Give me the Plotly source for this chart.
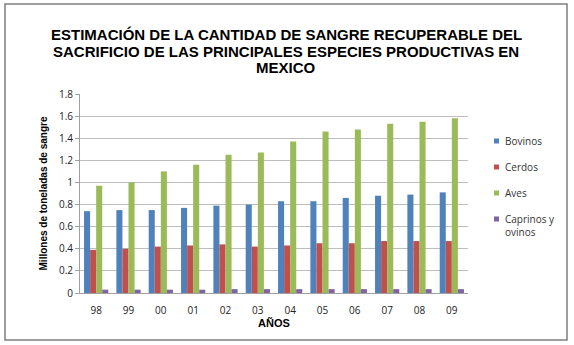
import plotly.graph_objects as go

years = ["98", "99", "00", "01", "02", "03", "04", "05", "06", "07", "08", "09"]
bovinos = [0.74, 0.75, 0.75, 0.77, 0.79, 0.80, 0.83, 0.83, 0.86, 0.88, 0.89, 0.91]
cerdos = [0.39, 0.40, 0.42, 0.43, 0.44, 0.42, 0.43, 0.45, 0.45, 0.47, 0.47, 0.47]
aves = [0.97, 1.00, 1.10, 1.16, 1.25, 1.27, 1.37, 1.46, 1.48, 1.53, 1.55, 1.58]
caprinos = [0.03, 0.03, 0.03, 0.03, 0.035, 0.035, 0.035, 0.035, 0.035, 0.035, 0.035, 0.035]

names = ["Bovinos", "Cerdos", "Aves", "Caprinos y<br>ovinos"]
colors = ["#4F81BD", "#C0504D", "#9BBB59", "#8064A2"]
values = [bovinos, cerdos, aves, caprinos]
title_lines = [
    "ESTIMACIÓN DE LA CANTIDAD DE SANGRE RECUPERABLE DEL",
    "SACRIFICIO DE LAS PRINCIPALES ESPECIES PRODUCTIVAS EN",
    "MEXICO",
]

W, H = 574, 345
L, R, T, B = 80, 106, 94, 52
pw, ph = W - L - R, H - T - B

def px(x):
    return (x - L) / pw

def py(y):
    return (H - B - y) / ph

fig = go.Figure()
for name, vals, col in zip(names, values, colors):
    fig.add_trace(go.Bar(x=years, y=vals, name=name, marker_color=col,
                         marker_line_width=0))

fig.update_layout(
    width=W, height=H,
    margin=dict(l=L, r=R, t=T, b=B),
    paper_bgcolor="white", plot_bgcolor="white",
    barmode="group", bargap=0.25, bargroupgap=0,
    font=dict(family="Liberation Sans, Arial", color="#000"),
    showlegend=False,
    yaxis=dict(
        range=[0, 1.8], dtick=0.2, tickformat="~g",
        showgrid=True, gridcolor="#BDBDBD", gridwidth=1,
        showline=True, linecolor="#A0A0A0", ticks="outside", ticklen=4, tickcolor="#A0A0A0",
        tickfont=dict(family="Open Sans, Liberation Sans", size=10, color="#222"),
        title=dict(text="Millones de toneladas de sangre", standoff=9,
                   font=dict(family="Liberation Sans, Arial", size=10, weight="bold", color="#000")),
        zeroline=False,
    ),
    xaxis=dict(
        showline=True, linecolor="#A0A0A0", ticks="",
        ticklabelstandoff=8,
        tickfont=dict(family="Open Sans, Liberation Sans", size=10, color="#222"),
        title=dict(text="AÑOS", standoff=1,
                   font=dict(family="Liberation Sans, Arial", size=11, weight="bold", color="#000")),
    ),
)

# title lines
for i, line in enumerate(title_lines):
    fig.add_annotation(text=line, xref="paper", yref="paper",
                       x=px(286), y=py(35 + 16 * i), xanchor="center", yanchor="middle",
                       showarrow=False,
                       font=dict(family="Liberation Sans, Arial", size=15, color="#000", weight="bold"))

# legend
leg_y = [141, 167, 193, 225]
for name, col, yy in zip(names, colors, leg_y):
    sq_y = yy if "<br>" not in name else 219
    fig.add_shape(type="rect", xref="paper", yref="paper",
                  x0=px(494), x1=px(499), y0=py(sq_y + 2.5), y1=py(sq_y - 2.5),
                  fillcolor=col, line=dict(width=0))
    fig.add_annotation(text=name, xref="paper", yref="paper",
                       x=px(503), y=py(yy), xanchor="left", yanchor="middle",
                       align="left", showarrow=False,
                       font=dict(family="Open Sans, Liberation Sans", size=10, color="#333"))

# outer frame
fig.add_shape(type="rect", xref="paper", yref="paper",
              x0=px(5), x1=px(567), y0=py(340), y1=py(4),
              line=dict(color="#7F7F7F", width=1.5), layer="below")

fig.write_html("out.html")
